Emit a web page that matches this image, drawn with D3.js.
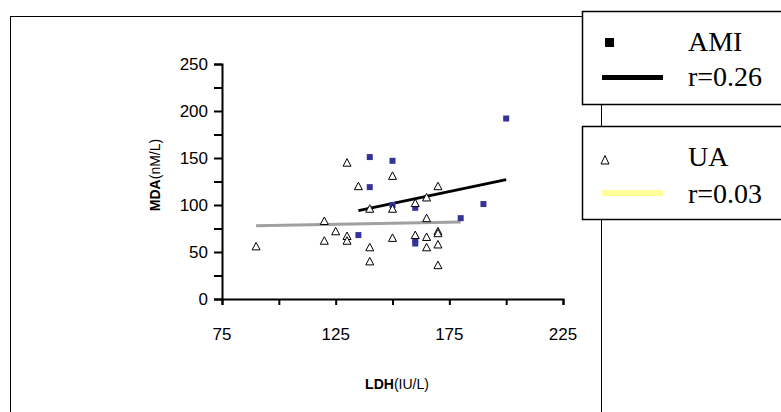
<!DOCTYPE html>
<html>
<head>
<meta charset="utf-8">
<script src="https://cdn.jsdelivr.net/npm/d3@7"></script>
<style>
  body { margin: 0; background: #fff; }
  svg { display: block; }
</style>
</head>
<body>
<script>
// AMI group (filled squares)
var amiLDH = [140, 150, 140, 150, 160, 135, 160, 160, 180, 190, 200];
var amiMDA = [151, 147, 119, 100, 97, 68, 63, 59, 86, 101, 192];

// UA group (open triangles)
var uaLDH = [130, 135, 150, 140, 150, 160, 165, 170, 165, 120, 125, 130, 130, 120, 90, 140, 140, 150, 160, 165, 165, 170, 170, 170, 170];
var uaMDA = [145, 120, 131, 96, 96, 102, 108, 120, 86, 83, 72, 67, 62, 62, 56, 55, 40, 65, 68, 66, 55, 72, 70, 58, 36];

// fitted lines (end points)
var amiFitX = [135, 200], amiFitY = [94, 127];
var uaFitX = [90, 180], uaFitY = [78, 82];

var xTicks = [75, 125, 175, 225];
var yTicks = [0, 50, 100, 150, 200, 250];

var W = 781, H = 412;
var svg = d3.select("body").append("svg")
    .attr("width", W)
    .attr("height", H);

// outer chart frame
svg.append("rect")
    .attr("x", 10.5).attr("y", 16.5)
    .attr("width", 591).attr("height", 420)
    .attr("fill", "none")
    .attr("stroke", "#000")
    .attr("stroke-width", 1);

var xScale = d3.scaleLinear().domain([75, 225]).range([222, 563]),
    yScale = d3.scaleLinear().domain([0, 250]).range([299, 64]);

// axes, ticks every 25, labels drawn separately
var yAxis = svg.append("g")
    .attr("transform", "translate(" + xScale(75) + ",0)")
    .call(d3.axisLeft(yScale).tickValues(d3.range(0, 251, 25)).tickSize(8).tickFormat(""));
var xAxis = svg.append("g")
    .attr("transform", "translate(0," + yScale(0) + ")")
    .call(d3.axisBottom(xScale).tickValues(d3.range(75, 226, 25)).tickSize(6).tickFormat(""));

[yAxis, xAxis].forEach(function(g){
    g.select(".domain").attr("stroke", "#000").attr("stroke-width", 2);
    g.selectAll(".tick line").attr("stroke", "#000").attr("stroke-width", 2);
});

svg.selectAll("ylab")
  .data(yTicks)
  .enter()
  .append("text")
    .attr("x", 208)
    .attr("y", function(d){ return yScale(d) + 6; })
    .attr("text-anchor", "end")
    .attr("font-family", "Liberation Sans, Arial, sans-serif")
    .attr("font-size", "17px")
    .text(function(d){ return d; });

svg.selectAll("xlab")
  .data(xTicks)
  .enter()
  .append("text")
    .attr("x", function(d){ return xScale(d); })
    .attr("y", 340)
    .attr("text-anchor", "middle")
    .attr("font-family", "Liberation Sans, Arial, sans-serif")
    .attr("font-size", "17px")
    .text(function(d){ return d; });

// axis titles
var xt = svg.append("text")
    .attr("x", 397).attr("y", 389)
    .attr("text-anchor", "middle")
    .attr("font-family", "Liberation Sans, Arial, sans-serif")
    .attr("font-size", "14px");
xt.append("tspan").attr("font-weight", "bold").text("LDH");
xt.append("tspan").text("(IU/L)");

var yt = svg.append("text")
    .attr("transform", "translate(160,175) rotate(-90)")
    .attr("text-anchor", "middle")
    .attr("font-family", "Liberation Sans, Arial, sans-serif")
    .attr("font-size", "14px");
yt.append("tspan").attr("font-weight", "bold").text("MDA");
yt.append("tspan").text("(nM/L)");

// fitted lines
var line = d3.line()
    .x(function(d){ return xScale(d[0]); })
    .y(function(d){ return yScale(d[1]); });

svg.append("path")
    .datum(d3.zip(uaFitX, uaFitY))
    .attr("d", line)
    .attr("fill", "none")
    .attr("stroke", "#a0a0a0")
    .attr("stroke-width", 3);

svg.append("path")
    .datum(d3.zip(amiFitX, amiFitY))
    .attr("d", line)
    .attr("fill", "none")
    .attr("stroke", "#000")
    .attr("stroke-width", 3);

// AMI squares
var sq = 6;
svg.selectAll(".ami")
  .data(d3.zip(amiLDH, amiMDA))
  .enter()
  .append("rect")
    .attr("class", "ami")
    .attr("x", function(d){ return xScale(d[0]) - sq/2; })
    .attr("y", function(d){ return yScale(d[1]) - sq/2; })
    .attr("width", sq)
    .attr("height", sq)
    .attr("fill", "#333399");

// UA triangles
svg.selectAll(".ua")
  .data(d3.zip(uaLDH, uaMDA))
  .enter()
  .append("path")
    .attr("class", "ua")
    .attr("transform", function(d){
        return "translate(" + xScale(d[0]) + "," + yScale(d[1]) + ")";
    })
    .attr("d", "M0,-4L4,3.5L-4,3.5Z")
    .attr("fill", "#fff")
    .attr("stroke", "#000")
    .attr("stroke-width", 1);

// legend boxes
var serif = "Liberation Serif, Times New Roman, serif";
function legendBox(y0, h){
    svg.append("rect")
        .attr("x", 582.5).attr("y", y0 + 0.5)
        .attr("width", 220).attr("height", h)
        .attr("fill", "#fff")
        .attr("stroke", "#000")
        .attr("stroke-width", 1.5);
}
legendBox(11, 93);
legendBox(126, 93);

svg.append("rect")
    .attr("x", 605).attr("y", 38)
    .attr("width", 9).attr("height", 9)
    .attr("fill", "#000");
svg.append("line")
    .attr("x1", 602).attr("x2", 663)
    .attr("y1", 77.5).attr("y2", 77.5)
    .attr("stroke", "#000")
    .attr("stroke-width", 5);

svg.append("path")
    .attr("transform", "translate(605,160)")
    .attr("d", "M0,-4.5L4,4L-4,4Z")
    .attr("fill", "#fff")
    .attr("stroke", "#000")
    .attr("stroke-width", 1);
svg.append("line")
    .attr("x1", 602).attr("x2", 663)
    .attr("y1", 193).attr("y2", 193)
    .attr("stroke", "#ffff99")
    .attr("stroke-width", 6);

var legTexts = [["AMI", 51], ["r=0.26", 86], ["UA", 166], ["r=0.03", 203]];
svg.selectAll("legtext")
  .data(legTexts)
  .enter()
  .append("text")
    .attr("x", 688)
    .attr("y", function(d){ return d[1]; })
    .attr("font-family", serif)
    .attr("font-size", "28px")
    .text(function(d){ return d[0]; });
</script>
</body>
</html>
